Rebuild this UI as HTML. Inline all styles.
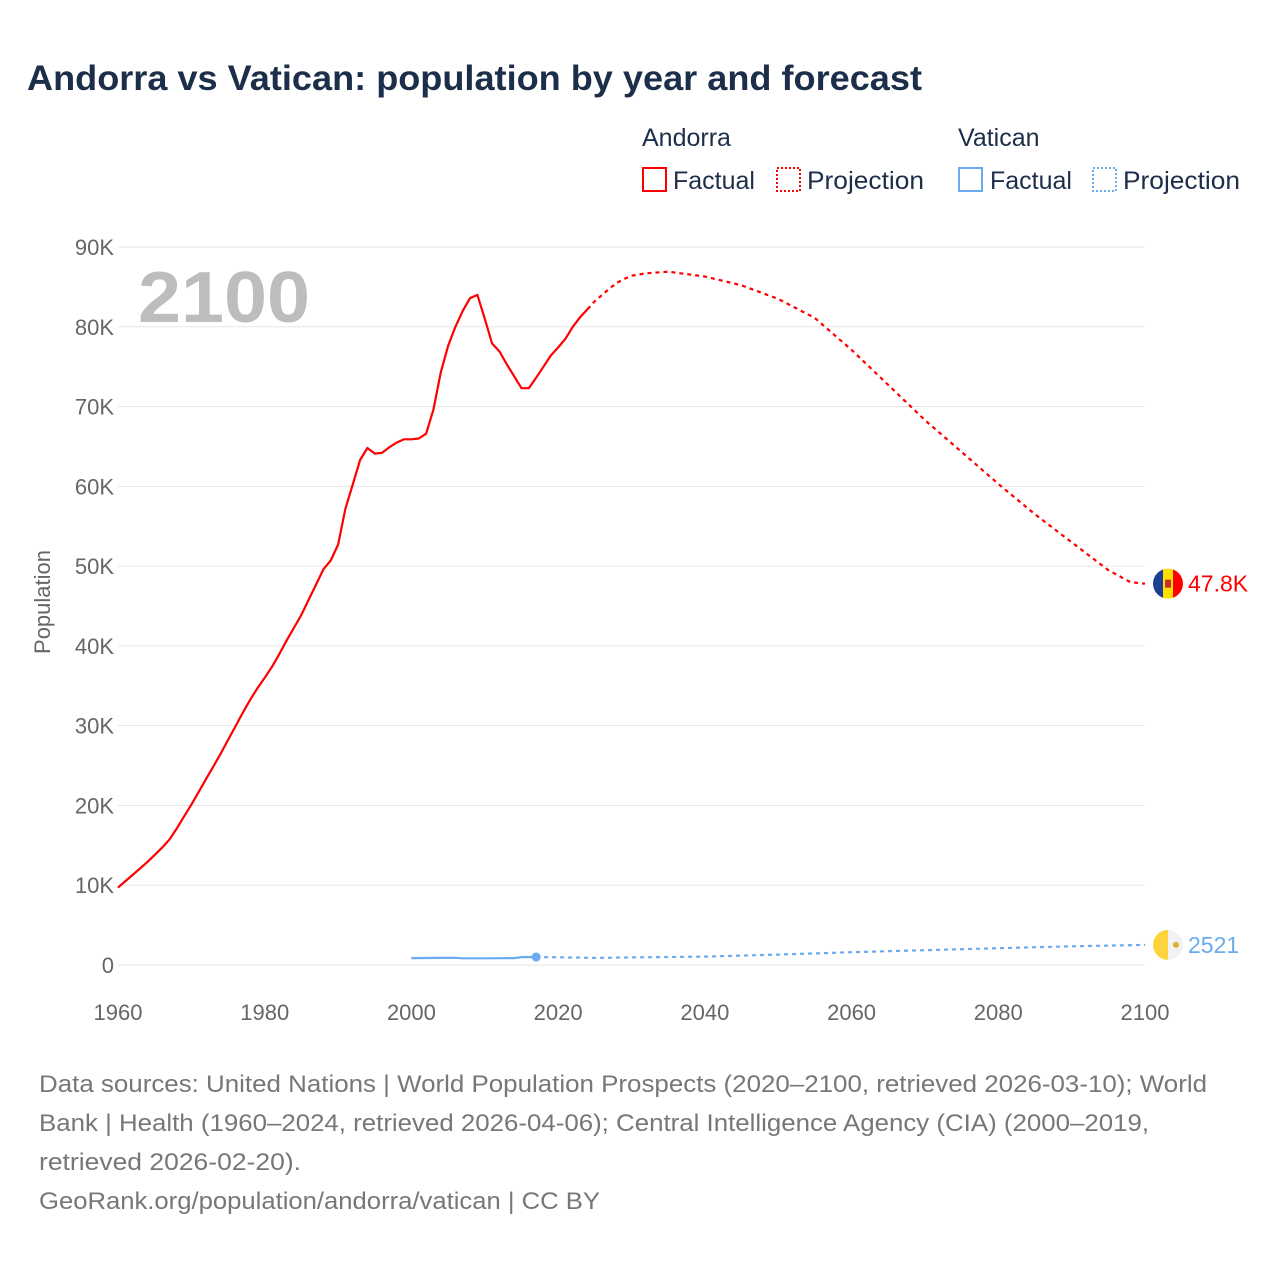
<!DOCTYPE html>
<html><head><meta charset="utf-8"><style>
body{margin:0;background:#fff;font-family:"Liberation Sans",sans-serif;}
svg text{font-family:"Liberation Sans",sans-serif;}
</style></head><body>
<svg id="chart" width="1280" height="1280" viewBox="0 0 1280 1280" xmlns="http://www.w3.org/2000/svg">
<rect width="1280" height="1280" fill="#fff"/>
<text x="27" y="90" font-size="35" font-weight="bold" fill="#1c2e4a" textLength="895" lengthAdjust="spacingAndGlyphs">Andorra vs Vatican: population by year and forecast</text>
<g font-size="25" fill="#1c2e4a">
<text x="642" y="146">Andorra</text>
<text x="958" y="146">Vatican</text>
<rect x="643" y="168" width="23" height="23" fill="none" stroke="#f00" stroke-width="2"/>
<text x="673" y="189">Factual</text>
<rect x="777" y="168" width="23" height="23" fill="none" stroke="#f00" stroke-width="2" stroke-dasharray="2,2"/>
<text x="807" y="189" textLength="117" lengthAdjust="spacingAndGlyphs">Projection</text>
<rect x="959" y="168" width="23" height="23" fill="none" stroke="#6aaaf0" stroke-width="2"/>
<text x="990" y="189">Factual</text>
<rect x="1093" y="168" width="23" height="23" fill="none" stroke="#6aaaf0" stroke-width="2" stroke-dasharray="2,2"/>
<text x="1123" y="189" textLength="117" lengthAdjust="spacingAndGlyphs">Projection</text>
</g>
<g id="grid"></g>
<g id="yticks" font-size="22" fill="#666" text-anchor="end"></g>
<g id="xticks" font-size="22" fill="#666" text-anchor="middle"></g>
<text transform="translate(50,602) rotate(-90)" font-size="22" fill="#666" text-anchor="middle">Population</text>
<text x="138" y="322" font-size="72" font-weight="bold" fill="#bdbdbd" textLength="172" lengthAdjust="spacingAndGlyphs">2100</text>
<g id="series"></g>
<g id="endlabels"></g>
<g font-size="24" fill="#777">
<text x="39" y="1092" textLength="1168" lengthAdjust="spacingAndGlyphs">Data sources: United Nations | World Population Prospects (2020–2100, retrieved 2026-03-10); World</text>
<text x="39" y="1131" textLength="1110" lengthAdjust="spacingAndGlyphs">Bank | Health (1960–2024, retrieved 2026-04-06); Central Intelligence Agency (CIA) (2000–2019,</text>
<text x="39" y="1170" textLength="262" lengthAdjust="spacingAndGlyphs">retrieved 2026-02-20).</text>
<text x="39" y="1209" textLength="561" lengthAdjust="spacingAndGlyphs">GeoRank.org/population/andorra/vatican | CC BY</text>
</g>
</svg>
<script>
const yTicks=[0,10000,20000,30000,40000,50000,60000,70000,80000,90000];
const yTickLabels=["0","10K","20K","30K","40K","50K","60K","70K","80K","90K"];
const xTicks=[1960,1980,2000,2020,2040,2060,2080,2100];
const andorraFactYears=[1960,1961,1962,1963,1964,1965,1966,1967,1968,1969,1970,1971,1972,1973,1974,1975,1976,1977,1978,1979,1980,1981,1982,1983,1984,1985,1986,1987,1988,1989,1990,1991,1992,1993,1994,1995,1996,1997,1998,1999,2000,2001,2002,2003,2004,2005,2006,2007,2008,2009,2010,2011,2012,2013,2014,2015,2016,2017,2018,2019,2020,2021,2022,2023,2024];
const andorraFact=[9700,10500,11300,12100,12900,13800,14700,15700,17100,18600,20100,21700,23300,24900,26500,28200,29900,31600,33200,34700,36000,37400,39000,40700,42300,43900,45800,47700,49600,50700,52700,57200,60200,63300,64800,64100,64200,64900,65500,65900,65900,66000,66600,69600,74300,77600,80000,82000,83600,84000,81000,77900,76900,75300,73800,72300,72300,73600,75000,76400,77400,78500,80000,81200,82200];
const andorraProjYears=[2024,2025,2026,2027,2028,2029,2030,2032,2035,2040,2045,2050,2055,2060,2065,2070,2075,2080,2085,2090,2095,2098,2100];
const andorraProj=[82200,83200,84000,84800,85500,86000,86400,86700,86900,86300,85200,83500,81100,77100,72700,68300,64300,60300,56500,53000,49500,48000,47800];
const vaticanFactYears=[2000,2002,2004,2006,2007,2010,2012,2014,2015,2017];
const vaticanFact=[870,880,890,900,840,840,850,860,990,1000];
const vaticanProjYears=[2017,2020,2025,2030,2040,2050,2060,2070,2080,2090,2100];
const vaticanProj=[1000,960,890,950,1050,1300,1600,1850,2100,2350,2521];
const NS="http://www.w3.org/2000/svg";
const X=y=>118+(y-1960)*(1145-118)/140;
const Y=v=>965-v*(965-247)/90000;
function mk(tag,attrs,parent){const e=document.createElementNS(NS,tag);for(const k in attrs)e.setAttribute(k,attrs[k]);parent.appendChild(e);return e;}
const grid=document.getElementById('grid'),yt=document.getElementById('yticks'),xt=document.getElementById('xticks'),ser=document.getElementById('series'),el=document.getElementById('endlabels');
yTicks.forEach((v,i)=>{
 const l=mk('line',{x1:118,x2:1145,y1:Y(v),y2:Y(v),stroke:'#e6e6e6','stroke-width':1},grid);
 
 
 const t=mk('text',{x:114,y:Y(v)+8},yt);t.textContent=yTickLabels[i];
 
 
});
xTicks.forEach(y=>{
 const t=mk('text',{x:X(y),y:1020},xt);t.textContent=y;
 
 
});
function line(xs,vs,color,dash,name){
 const d=xs.map((x,i)=>(i?'L':'M')+X(x).toFixed(1)+','+Y(vs[i]).toFixed(1)).join(' ');
 const p=mk('path',{d:d,fill:'none',stroke:color,'stroke-width':2.2,'stroke-linejoin':'round'},ser);
 if(dash)p.setAttribute('stroke-dasharray',dash);
 
 
}
line(andorraProjYears,andorraProj,'#f00','4,4','andorra-projection-line');
line(andorraFactYears,andorraFact,'#f00',null,'andorra-factual-line');
line(vaticanProjYears,vaticanProj,'#6aaaf0','4,4','vatican-projection-line');
line(vaticanFactYears,vaticanFact,'#6aaaf0',null,'vatican-factual-line');
const lastVY=vaticanFactYears[vaticanFactYears.length-1],lastVV=vaticanFact[vaticanFact.length-1];
const dot=mk('circle',{cx:X(lastVY),cy:Y(lastVV),r:4.5,fill:'#6aaaf0'},ser);


const aV=andorraProj[andorraProj.length-1],vV=vaticanProj[vaticanProj.length-1];
const ay=Y(aV),vy=Y(vV);
const fa=mk('g',{},el);


const cpa=mk('clipPath',{id:'ca'},fa);mk('circle',{cx:1168,cy:ay,r:15},cpa);
const ga=mk('g',{'clip-path':'url(#ca)'},fa);
mk('rect',{x:1153,y:ay-15,width:10,height:30,fill:'#1c3f94'},ga);
mk('rect',{x:1163,y:ay-15,width:10,height:30,fill:'#fedf00'},ga);
mk('rect',{x:1173,y:ay-15,width:10,height:30,fill:'#f00'},ga);
mk('rect',{x:1165,y:ay-4,width:6,height:8,fill:'#c7302c'},ga);
const la=mk('text',{x:1188,y:ay+8,'font-size':23,fill:'#f00'},el);la.textContent=(aV/1000).toFixed(1)+'K';


const fv=mk('g',{},el);


const cp=mk('clipPath',{id:'cv'},fv);mk('circle',{cx:1168,cy:vy,r:15},cp);
const gv=mk('g',{'clip-path':'url(#cv)'},fv);
mk('rect',{x:1153,y:vy-15,width:15,height:30,fill:'#ffd33e'},gv);
mk('rect',{x:1168,y:vy-15,width:15,height:30,fill:'#f2f2f2'},gv);
mk('circle',{cx:1176,cy:vy,r:3,fill:'#e0b030'},gv);
const lv=mk('text',{x:1188,y:vy+8,'font-size':23,fill:'#6aaaf0'},el);lv.textContent=vV;


</script>
</body></html>
